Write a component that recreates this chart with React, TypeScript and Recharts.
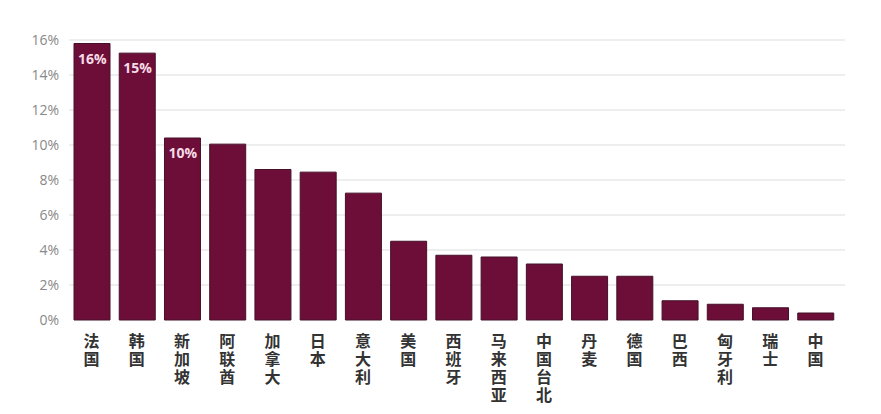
import { BarChart, Bar, XAxis, YAxis, CartesianGrid, LabelList } from 'recharts';

const countries = [
  '法国', '韩国', '新加坡', '阿联酋', '加拿大', '日本', '意大利', '美国', '西班牙',
  '马来西亚', '中国台北', '丹麦', '德国', '巴西', '匈牙利', '瑞士', '中国',
];
const shares = [15.8, 15.25, 10.4, 10.05, 8.6, 8.45, 7.25, 4.5, 3.7, 3.6, 3.2, 2.5, 2.5, 1.1, 0.9, 0.7, 0.4];
const barLabels = ['16%', '15%', '10%'];
const yTicks = [0, 2, 4, 6, 8, 10, 12, 14, 16];

const data = countries.map((name, i) => ({ name, value: shares[i], label: barLabels[i] || '' }));

// country names run top to bottom, one character per line
const VerticalTick = ({ x, y, payload }: any) => (
  <text
    x={x}
    y={y + 5}
    fill="#333"
    fontSize={16}
    fontWeight={700}
    fontFamily="'Noto Sans CJK SC', sans-serif"
    style={{ writingMode: 'vertical-rl', letterSpacing: 2 }}
  >
    {payload.value}
  </text>
);

const InsideLabel = ({ x, y, value }: any) => {
  if (!value) return null;
  return (
    <text
      x={x + 4}
      y={y + 20}
      fill="#f7dbe6"
      fontSize={14}
      fontWeight={700}
      fontFamily="'Open Sans', sans-serif"
    >
      {value}
    </text>
  );
};

export default function App() {
  return (
    <div style={{ position: 'absolute', left: 0, top: 0, width: 881, height: 414, background: '#fff' }}>
      <BarChart
        width={881}
        height={414}
        data={data}
        margin={{ top: 40, right: 36, left: 0, bottom: 4 }}
        barSize={36}
      >
        <CartesianGrid
          vertical={false}
          stroke="#e8e8e8"
          strokeWidth={1.5}
          horizontalValues={[2, 4, 6, 8, 10, 12, 14, 16]}
        />
        <XAxis
          dataKey="name"
          interval={0}
          axisLine={false}
          tickLine={false}
          height={90}
          padding={{ left: 0, right: 7 }}
          tick={<VerticalTick />}
        />
        <YAxis
          width={69}
          domain={[0, 16]}
          ticks={yTicks}
          axisLine={false}
          tickLine={false}
          tickMargin={4}
          tickFormatter={(v: number) => `${v}%`}
          tick={{ fill: '#888', fontSize: 14, fontFamily: "'Open Sans', sans-serif" }}
        />
        <Bar dataKey="value" fill="#6c0e38" stroke="#45102a" strokeWidth={1} isAnimationActive={false}>
          <LabelList dataKey="label" content={<InsideLabel />} />
        </Bar>
      </BarChart>
    </div>
  );
}
